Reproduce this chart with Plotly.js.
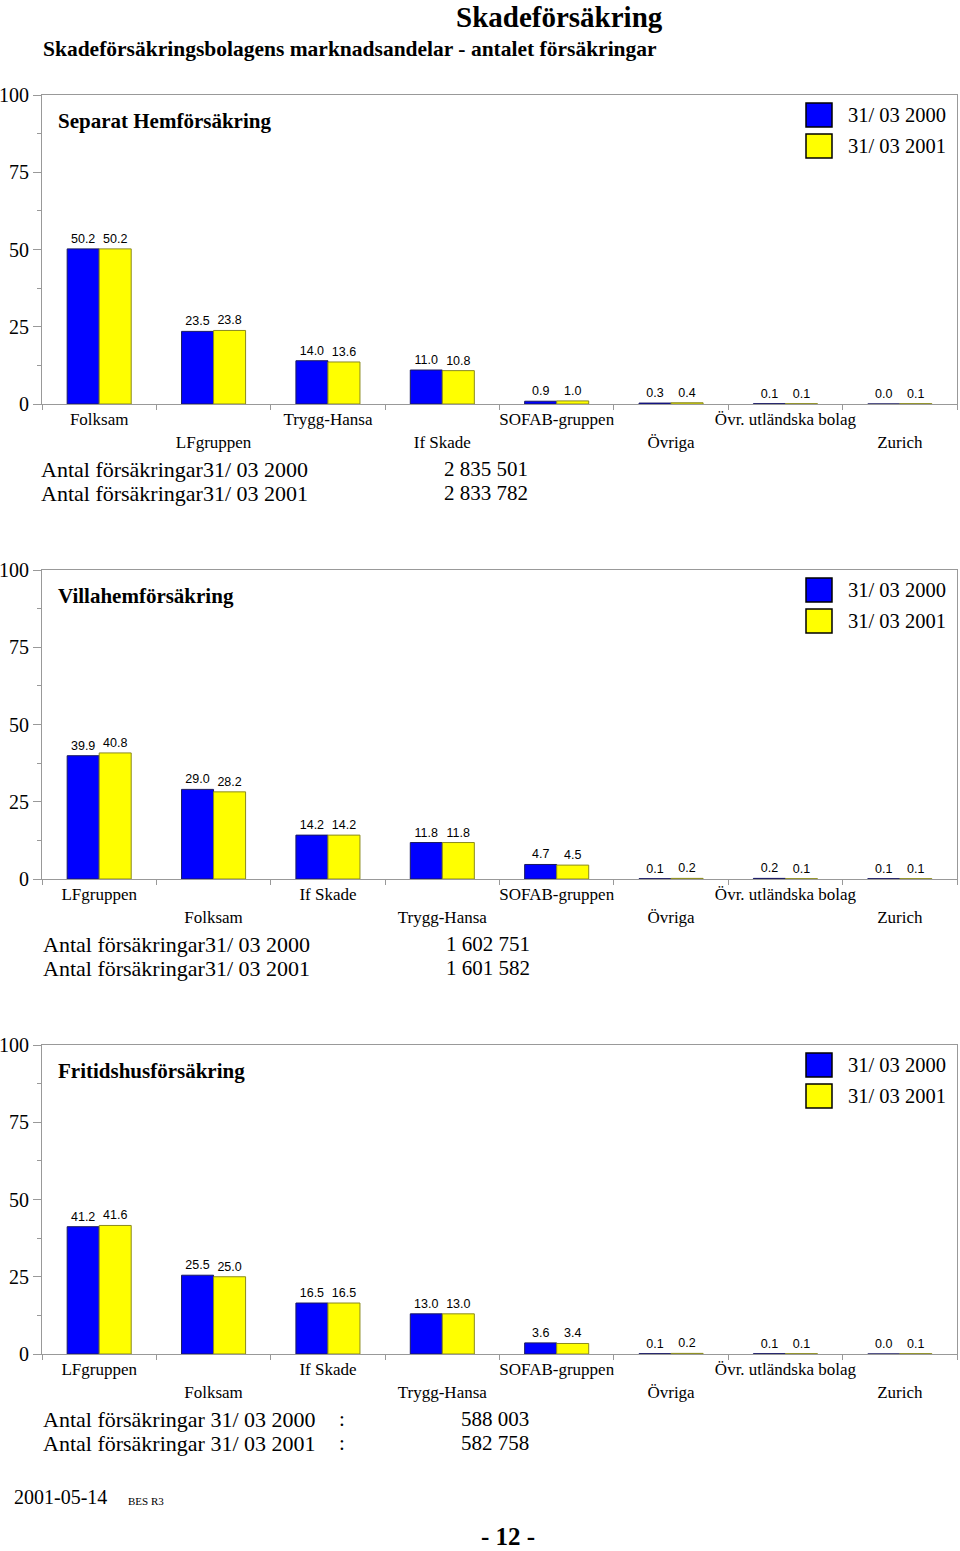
<!DOCTYPE html>
<html>
<head>
<meta charset="utf-8">
<script src="https://cdn.plot.ly/plotly-3.0.1.min.js"></script>
<style>html,body{margin:0;padding:0;background:#fff;}#chart{width:960px;height:1551px;}</style>
</head>
<body>
<div id="chart"></div>
<script>
// ---- data ----
const series = ["31/ 03 2000", "31/ 03 2001"];
const catsHem = ["Folksam","LFgruppen","Trygg-Hansa","If Skade","SOFAB-gruppen","Övriga","Övr. utländska bolag","Zurich"];
const hem2000 = [50.2, 23.5, 14.0, 11.0, 0.9, 0.3, 0.1, 0.0];
const hem2001 = [50.2, 23.8, 13.6, 10.8, 1.0, 0.4, 0.1, 0.1];
const catsVilla = ["LFgruppen","Folksam","If Skade","Trygg-Hansa","SOFAB-gruppen","Övriga","Övr. utländska bolag","Zurich"];
const villa2000 = [39.9, 29.0, 14.2, 11.8, 4.7, 0.1, 0.2, 0.1];
const villa2001 = [40.8, 28.2, 14.2, 11.8, 4.5, 0.2, 0.1, 0.1];
const catsFri = ["LFgruppen","Folksam","If Skade","Trygg-Hansa","SOFAB-gruppen","Övriga","Övr. utländska bolag","Zurich"];
const fri2000 = [41.2, 25.5, 16.5, 13.0, 3.6, 0.1, 0.1, 0.0];
const fri2001 = [41.6, 25.0, 16.5, 13.0, 3.4, 0.2, 0.1, 0.1];
const panelTitles = ["Separat Hemförsäkring", "Villahemförsäkring", "Fritidshusförsäkring"];
const countsHem = ["2 835 501", "2 833 782"];
const countsVilla = ["1 602 751", "1 601 582"];
const countsFri = ["588 003", "582 758"];
const yTicks = [0, 25, 50, 75, 100];

// ---- layout helpers ----
const W = 960, H = 1551;
const px = x => x / W;
const py = y => 1 - y / H;
const SERIF = "Liberation Serif";
const SANS = "Liberation Sans";
const colors = ["#0000ff", "#ffff00"];
const lineColors = ["#1a1a60", "#8a8a20"];

const panels = [
  {cats: catsHem, v: [hem2000, hem2001], counts: countsHem, top: 95, bottom: 404, colon: false, textX: 39, numX: 442},
  {cats: catsVilla, v: [villa2000, villa2001], counts: countsVilla, top: 570, bottom: 879, colon: false, textX: 41, numX: 444},
  {cats: catsFri, v: [fri2000, fri2001], counts: countsFri, top: 1045, bottom: 1354, colon: true, textX: 41, numX: 459}
];

const traces = [];
const layout = {
  width: W, height: H,
  margin: {l: 0, r: 0, t: 0, b: 0},
  paper_bgcolor: "#fff", plot_bgcolor: "#fff",
  showlegend: false,
  barmode: "group", bargap: 0.44, bargroupgap: 0,
  font: {family: SERIF, color: "#000"},
  annotations: [], shapes: []
};

panels.forEach((p, i) => {
  const sfx = i === 0 ? "" : String(i + 1);
  const xa = "x" + sfx, ya = "y" + sfx;
  p.v.forEach((vals, s) => {
    traces.push({
      type: "bar", x: p.cats, y: vals, name: series[s],
      xaxis: xa, yaxis: ya,
      marker: {color: colors[s], line: {color: lineColors[s], width: 1}},
      texttemplate: "%{y:.1f}", textposition: "outside", cliponaxis: false,
      textfont: {family: SANS, size: 12.5, color: "#000"},
      hoverinfo: "skip"
    });
  });
  const alias = {};
  p.cats.forEach((c, k) => { if (k % 2 === 1) alias[c] = "<br>" + c; });
  layout["xaxis" + sfx] = {
    domain: [px(42), px(957)], anchor: ya,
    type: "category", tickson: "boundaries", tickangle: 0,
    ticks: "outside", ticklen: 5, tickcolor: "#999",
    showline: true, linecolor: "#999", linewidth: 1, mirror: true,
    showgrid: false, zeroline: false,
    labelalias: alias,
    tickfont: {family: SERIF, size: 17, color: "#000"},
    fixedrange: true
  };
  layout["yaxis" + sfx] = {
    domain: [py(p.bottom), py(p.top)], anchor: xa,
    range: [0, 100], tickmode: "array", tickvals: yTicks,
    ticks: "outside", ticklen: 8, tickcolor: "#999",
    minor: {dtick: 12.5, ticks: "outside", ticklen: 4, tickcolor: "#999"},
    showline: true, linecolor: "#999", linewidth: 1, mirror: true,
    showgrid: false, zeroline: false,
    tickfont: {family: SERIF, size: 20, color: "#000"},
    fixedrange: true
  };
  const off = p.top - 95;
  // panel title
  layout.annotations.push({
    xref: "paper", yref: "paper", x: px(56), y: py(121 + off),
    xanchor: "left", yanchor: "middle", showarrow: false,
    text: "<b>" + panelTitles[i] + "</b>",
    font: {family: SERIF, size: 21, color: "#000"}
  });
  // legend boxes + labels
  series.forEach((name, s) => {
    const yTop = 103 + off + s * 31;
    layout.shapes.push({
      type: "rect", xref: "paper", yref: "paper",
      x0: px(806), x1: px(832), y0: py(yTop), y1: py(yTop + 24),
      fillcolor: colors[s], line: {color: "#000", width: 1.5}
    });
    layout.annotations.push({
      xref: "paper", yref: "paper", x: px(846), y: py(yTop + 12),
      xanchor: "left", yanchor: "middle", showarrow: false,
      text: name, font: {family: SERIF, size: 20.5, color: "#000"}
    });
  });
  // counts
  p.counts.forEach((c, s) => {
    const yy = 469 + off + s * 24;
    layout.annotations.push({
      xref: "paper", yref: "paper", x: px(p.textX), y: py(yy),
      xanchor: "left", yanchor: "middle", showarrow: false,
      text: "Antal försäkringar" + (p.colon ? " " : "") + series[s],
      font: {family: SERIF, size: 22, color: "#000"}
    });
    if (p.colon) {
      layout.annotations.push({
        xref: "paper", yref: "paper", x: px(337), y: py(yy),
        xanchor: "left", yanchor: "middle", showarrow: false,
        text: ":", font: {family: SERIF, size: 21, color: "#000"}
      });
    }
    layout.annotations.push({
      xref: "paper", yref: "paper", x: px(p.numX), y: py(yy),
      xanchor: "left", yanchor: "middle", showarrow: false,
      text: c, font: {family: SERIF, size: 21, color: "#000"}
    });
  });
});

// page texts
layout.annotations.push(
  {xref: "paper", yref: "paper", x: px(559), y: py(0), xanchor: "center", yanchor: "top", showarrow: false,
   borderpad: 0,
   text: "<b>Skadeförsäkring</b>", font: {family: SERIF, size: 29, color: "#000"}},
  {xref: "paper", yref: "paper", x: px(41), y: py(49), xanchor: "left", yanchor: "middle", showarrow: false,
   text: "<b>Skadeförsäkringsbolagens marknadsandelar - antalet försäkringar</b>", font: {family: SERIF, size: 21.5, color: "#000"}},
  {xref: "paper", yref: "paper", x: px(12), y: py(1497), xanchor: "left", yanchor: "middle", showarrow: false,
   text: "2001-05-14", font: {family: SERIF, size: 20, color: "#000"}},
  {xref: "paper", yref: "paper", x: px(126), y: py(1501), xanchor: "left", yanchor: "middle", showarrow: false,
   text: "BES R3", font: {family: SERIF, size: 11, color: "#000"}},
  {xref: "paper", yref: "paper", x: px(508), y: py(1551), xanchor: "center", yanchor: "bottom", showarrow: false,
   borderpad: 0,
   text: "<b>- 12 -</b>", font: {family: SERIF, size: 25, color: "#000"}}
);

Plotly.newPlot("chart", traces, layout, {displayModeBar: false, staticPlot: true});
</script>
</body>
</html>
